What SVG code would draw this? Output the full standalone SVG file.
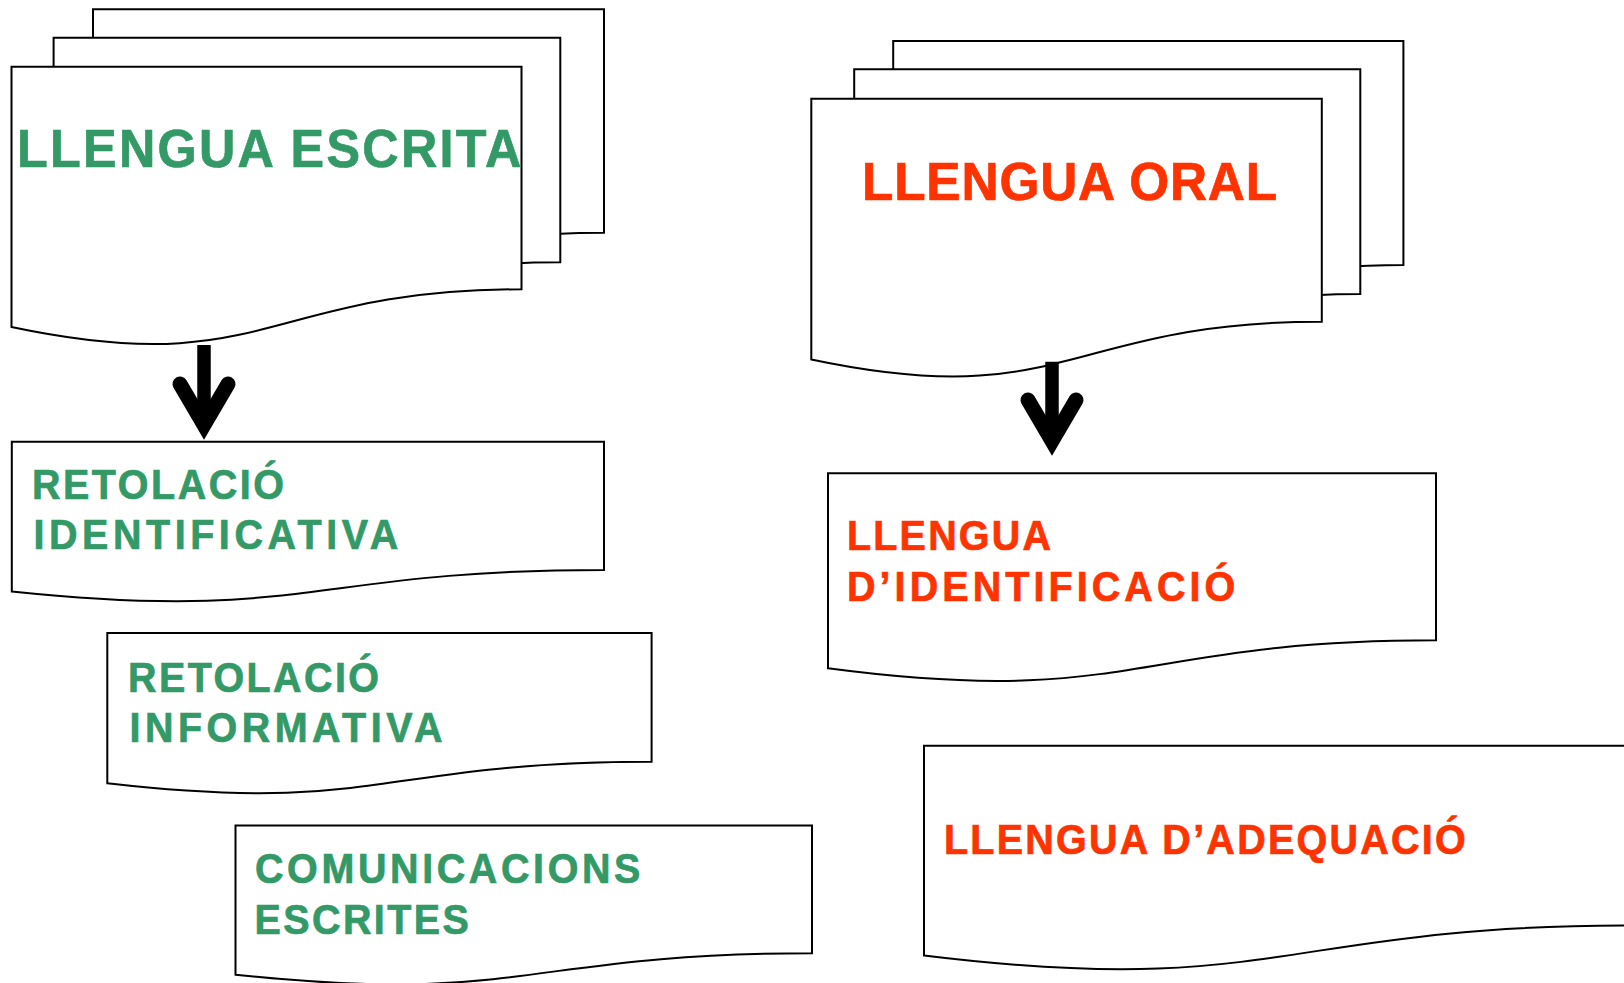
<svg xmlns="http://www.w3.org/2000/svg" width="1624" height="983" viewBox="0 0 1624 983">
<style>
.doc{fill:#fff;stroke:#000;stroke-width:2}
.t{font-family:"Liberation Sans",Arial,sans-serif;font-weight:bold;stroke-width:0.7}
.g{fill:#339966;stroke:#339966}
.r{fill:#FF3300;stroke:#FF3300}
.big{font-size:53px}
.sm{font-size:42px}
.shaft{stroke:#000;stroke-width:13.5;fill:none}
.head{stroke:#000;stroke-width:15;fill:none;stroke-linecap:round;stroke-linejoin:miter;stroke-miterlimit:6}
</style>
<rect width="1624" height="983" fill="#fff"/>
<g id="llengua-escrita">
<path class="doc" d="M93,9.3 H604 V232.8 C348.5,232.8 348.5,325 93,270.5 Z"/>
<path class="doc" d="M53.6,37.7 H560.3 V262.3 C306.9,262.3 306.9,355 53.6,300.2 Z"/>
<path class="doc" d="M11.5,66.7 H521.5 V289.3 C266.5,289.3 266.5,381 11.5,327 Z"/>
<text class="t g big" transform="translate(17,166.5) scale(0.95,1)" textLength="531" lengthAdjust="spacing">LLENGUA ESCRITA</text>
</g>
<g id="llengua-oral">
<path class="doc" d="M893.2,41 H1403.4 V265 C1148.3,265 1148.3,357 893.2,302.7 Z"/>
<path class="doc" d="M854.2,69.3 H1360.3 V294 C1107.25,294 1107.25,386.5 854.2,331.8 Z"/>
<path class="doc" d="M811.3,98.7 H1321.8 V321.7 C1066.55,321.7 1066.55,413.5 811.3,359.5 Z"/>
<text class="t r big" transform="translate(862,199.5) scale(0.97,1)" textLength="428" lengthAdjust="spacing">LLENGUA ORAL</text>
</g>
<g id="retolacio-identificativa">
<path class="doc" d="M11.8,441.7 H604 V570 C307.9,570 307.9,622.5 11.8,591.5 Z"/>
<text class="t g sm" transform="translate(32,499) scale(0.94,1)" textLength="268" lengthAdjust="spacing">RETOLACIÓ</text>
<text class="t g sm" transform="translate(33.5,549.3) scale(0.94,1)" textLength="388" lengthAdjust="spacing">IDENTIFICATIVA</text>
</g>
<g id="retolacio-informativa">
<path class="doc" d="M107.3,633 H651.6 V761.8 C379.45,761.8 379.45,814.5 107.3,783.3 Z"/>
<text class="t g sm" transform="translate(128,691.7) scale(0.94,1)" textLength="267" lengthAdjust="spacing">RETOLACIÓ</text>
<text class="t g sm" transform="translate(129.5,741.7) scale(0.94,1)" textLength="333" lengthAdjust="spacing">INFORMATIVA</text>
</g>
<g id="comunicacions-escrites">
<path class="doc" d="M235.5,825.6 H812 V953.3 C523.75,953.3 523.75,1005.5 235.5,974.7 Z"/>
<text class="t g sm" transform="translate(255,882.7) scale(0.94,1)" textLength="410" lengthAdjust="spacing">COMUNICACIONS</text>
<text class="t g sm" transform="translate(254.5,934) scale(0.94,1)" textLength="228" lengthAdjust="spacing">ESCRITES</text>
</g>
<g id="llengua-identificacio">
<path class="doc" d="M828,473.3 H1436 V640.3 C1132,640.3 1132,708.5 828,668.3 Z"/>
<text class="t r sm" transform="translate(847,550) scale(0.94,1)" textLength="217" lengthAdjust="spacing">LLENGUA</text>
<text class="t r sm" transform="translate(847,600.7) scale(0.94,1)" textLength="413" lengthAdjust="spacing">D’IDENTIFICACIÓ</text>
</g>
<g id="llengua-adequacio">
<path class="doc" d="M924,745.7 H1634 V925.4 C1279,925.4 1279,999 924,955.5 Z"/>
<text class="t r sm" transform="translate(944,854) scale(0.94,1)" textLength="555" lengthAdjust="spacing">LLENGUA D’ADEQUACIÓ</text>
</g>
<g id="connectors">
<line class="shaft" x1="204" y1="345" x2="204" y2="426"/>
<polyline class="head" points="180,384 204,425 228,384"/>
<line class="shaft" x1="1052" y1="361.7" x2="1052" y2="442"/>
<polyline class="head" points="1028,400 1052,441 1076,400"/>
</g>
</svg>
